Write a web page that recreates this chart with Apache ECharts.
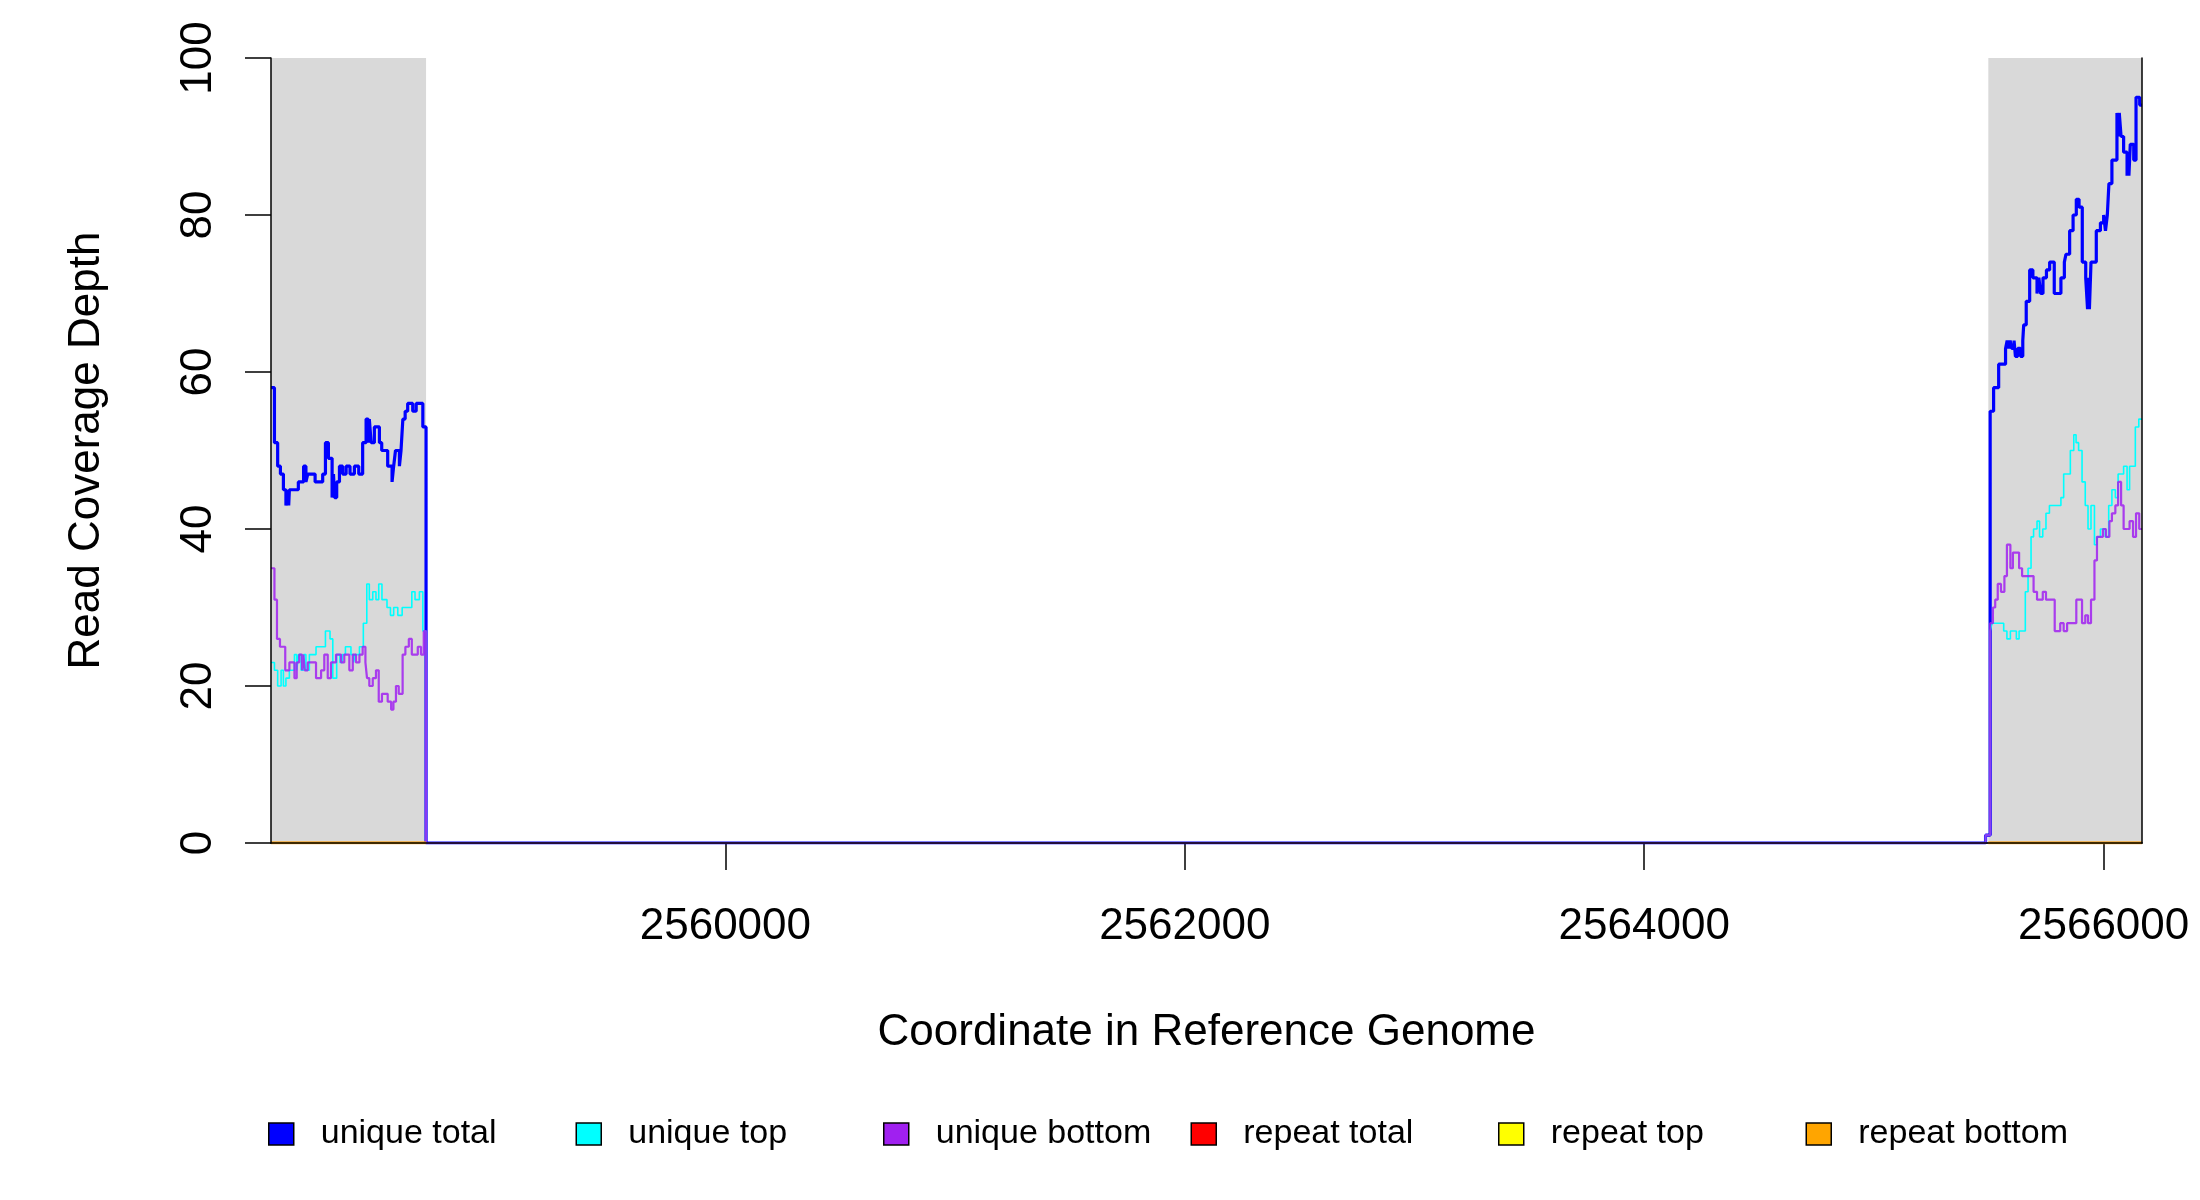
<!DOCTYPE html>
<html>
<head>
<meta charset="utf-8">
<script src="https://cdn.jsdelivr.net/npm/echarts@6/dist/echarts.min.js"></script>
<style>
  html, body { margin: 0; padding: 0; background: #fff; }
  #chart { width: 2200px; height: 1200px; }
</style>
</head>
<body>
<div id="chart"></div>
<script>
// two covered regions of the reference, positions given as offsets from their start
var leftStart = 2558022
var leftEnd = 2558697
var rightStart = 2565498
var rightEnd = 2566167
var xTicks = [2560000, 2562000, 2564000, 2566000]

var uniqueTotalLeft = [[0,58],[15,51],[29,48],[41,47],[54,45],[65,43],[73,45],[77,43],[80,45],[119,46],[142,48],[152,46],[160,47],
  [192,46],[225,47],[237,51],[250,49],[266,44],[272,47],[277,44],[286,46],[298,48],[312,47],[327,48],[344,47],[363,48],[382,47],
  [399,51],[414,54],[423,51],[428,54],[436,51],[450,53],[472,51],[482,50],[508,48],[527,46],[534,48],[542,50],[559,48],[566,50],
  [574,54],[584,55],[595,56],[617,55],[632,56],[661,53],[675,0]]
var uniqueTopLeft = [[0,23],[15,22],[29,20],[44,22],[54,20],[65,21],[80,22],[102,24],[112,22],[120,24],[131,22],[142,24],[152,22],
  [167,24],[196,25],[237,27],[257,26],[269,21],[286,24],[300,23],[310,24],[324,25],[348,24],[360,23],[366,24],[385,25],[402,28],
  [417,33],[428,31],[443,32],[457,31],[469,33],[483,31],[505,30],[520,29],[534,30],[552,29],[571,30],[613,32],[627,31],[646,32],
  [661,27],[675,0]]
var uniqueBottomLeft = [[0,35],[15,31],[26,26],[39,25],[62,22],[80,23],[102,21],[112,23],[123,24],[135,22],[141,24],[147,22],
  [160,23],[196,21],[218,22],[232,24],[247,21],[261,23],[283,24],[305,23],[319,24],[341,22],[356,24],[370,23],[385,24],[399,25],
  [411,23],[418,21],[428,20],[443,21],[457,22],[469,18],[483,19],[508,18],[523,17],[533,18],[544,20],[556,19],[573,24],[585,25],
  [600,26],[613,24],[639,25],[653,24],[665,27],[675,0]]

var uniqueTotalRight = [[-12,1],[8,55],[23,58],[45,61],[75,63],[82,64],[88,63],[95,64],[102,63],[112,64],[118,62],[128,63],
  [140,62],[150,64],[154,66],[165,69],[180,73],[194,72],[212,70],[220,72],[228,70],[238,72],[253,73],[267,74],[287,70],[316,72],
  [331,74],[338,75],[354,78],[369,80],[383,82],[395,81],[409,74],[424,72],[432,68],[436,72],[440,68],[447,74],[470,78],[488,79],
  [502,80],[510,78],[518,80],[525,84],[538,87],[560,93],[566,90],[570,93],[578,90],[589,88],[604,85],[608,88],[612,85],[618,89],
  [633,87],[643,95],[659,94],[669,94]]
var uniqueTopRight = [[-12,1],[8,27],[16,28],[67,27],[81,26],[96,27],[122,26],[134,27],[161,32],[173,35],[186,39],[197,40],
  [212,41],[223,39],[237,40],[251,42],[266,43],[316,44],[328,47],[357,50],[372,52],[382,51],[393,50],[408,46],[422,43],[434,40],
  [447,43],[462,38],[473,39],[488,40],[509,39],[524,43],[538,45],[553,44],[565,47],[589,48],[604,45],[615,48],[640,53],[655,54],
  [669,54]]
var uniqueBottomRight = [[-12,1],[8,28],[20,30],[30,31],[41,33],[55,32],[70,34],[81,38],[96,35],[107,37],[134,35],[147,34],
  [197,32],[212,31],[237,32],[251,31],[289,27],[313,28],[328,27],[343,28],[383,31],[408,28],[422,29],[434,28],[447,31],[462,36],
  [473,39],[499,40],[512,39],[527,41],[538,42],[553,43],[565,46],[578,43],[589,40],[615,41],[630,39],[643,42],[657,40],[669,40]]

// repeat reads: flat zero across both regions
var repeatLeft = [[0,0],[675,0]]
var repeatRight = [[0,0],[669,0]]

var names = ['unique total', 'unique top', 'unique bottom', 'repeat total', 'repeat top', 'repeat bottom']
var colors = ['#0000ff', '#00ffff', '#a020f0', '#ff0000', '#ffff00', '#ffa500']

var font = 'Liberation Sans'

function build(left, right) {
  var d = left.map(function (p) { return [leftStart + p[0], p[1]] })
  right.forEach(function (p) { d.push([rightStart + p[0], p[1]]) })
  return d
}
function shift(arr, base) {
  return arr.map(function (p) { return [base + p[0], p[1]] })
}

var chart = echarts.init(document.getElementById('chart'))

var series = [{
    name: names[0], type: 'line', step: 'end', showSymbol: false, color: colors[0],
    lineStyle: { width: 3.2, color: colors[0] },
    data: build(uniqueTotalLeft, uniqueTotalRight),
    markArea: {
      silent: true,
      itemStyle: { color: '#d9d9d9' },
      data: [[{ xAxis: leftStart }, { xAxis: leftEnd }], [{ xAxis: rightStart }, { xAxis: rightEnd }]]
    }
  }, {
    name: names[1], type: 'line', step: 'end', showSymbol: false, color: colors[1],
    lineStyle: { width: 1.6, color: colors[1] },
    data: build(uniqueTopLeft, uniqueTopRight)
  }, {
    name: names[2], type: 'line', step: 'end', showSymbol: false, color: colors[2],
    lineStyle: { width: 2.2, color: colors[2], opacity: 0.85 },
    data: build(uniqueBottomLeft, uniqueBottomRight)
  }]

for (var k = 3; k < 6; k++) {
  [shift(repeatLeft, leftStart), shift(repeatRight, rightStart)].forEach(function (d) {
    series.push({
      name: names[k], type: 'line', showSymbol: false, color: colors[k],
      lineStyle: { width: 2.5, color: colors[k] },
      data: d
    })
  })
}

var legendLeft = [263, 570.5, 878, 1185.5, 1493, 1800.5]
var legends = names.map(function (n, i) {
  return {
    data: [n], left: legendLeft[i], top: 1112, icon: 'rect',
    itemWidth: 25, itemHeight: 22,
    itemStyle: { borderColor: '#000', borderWidth: 1.5 },
    textStyle: { fontSize: 34, fontFamily: font, color: '#000', padding: [0, 0, 0, 22] },
    selectedMode: false
  }
})

var option = {
  animation: false,
  backgroundColor: '#fff',
  grid: { left: 271, right: 58, top: 58, bottom: 357 },
  legend: legends,
  xAxis: [{
    type: 'value', min: leftStart, max: rightEnd,
    name: 'Coordinate in Reference Genome', nameLocation: 'middle', nameGap: 168,
    nameTextStyle: { fontSize: 44, fontFamily: font, color: '#000' },
    axisLine: { show: true, lineStyle: { color: '#444', width: 1.5 } },
    axisTick: { show: true, length: 27, customValues: xTicks, lineStyle: { color: '#000', width: 1.5 } },
    axisLabel: { customValues: xTicks, margin: 62, fontSize: 44, fontFamily: font, color: '#000',
      formatter: function (v) { return String(v) } },
    splitLine: { show: false }
  }, {
    type: 'value', position: 'top', min: leftStart, max: rightEnd, z: 10,
    axisLine: { show: true, lineStyle: { color: '#000', width: 1.5 } },
    axisTick: { show: false }, axisLabel: { show: false }, splitLine: { show: false }
  }],
  yAxis: [{
    type: 'value', min: 0, max: 100, interval: 20, z: 10,
    name: 'Read Coverage Depth', nameLocation: 'middle', nameGap: 162, nameRotate: 90,
    nameTextStyle: { fontSize: 44, fontFamily: font, color: '#000' },
    axisLine: { show: true, lineStyle: { color: '#000', width: 1.5 } },
    axisTick: { show: true, length: 26, lineStyle: { color: '#000', width: 1.5 } },
    axisLabel: { rotate: 90, margin: 50, fontSize: 44, fontFamily: font, color: '#000' },
    splitLine: { show: false }
  }, {
    type: 'value', position: 'right', min: 0, max: 100, z: 10,
    axisLine: { show: true, lineStyle: { color: '#000', width: 1.5 } },
    axisTick: { show: false }, axisLabel: { show: false }, splitLine: { show: false }
  }],
  series: series
}

chart.setOption(option)
</script>
</body>
</html>
